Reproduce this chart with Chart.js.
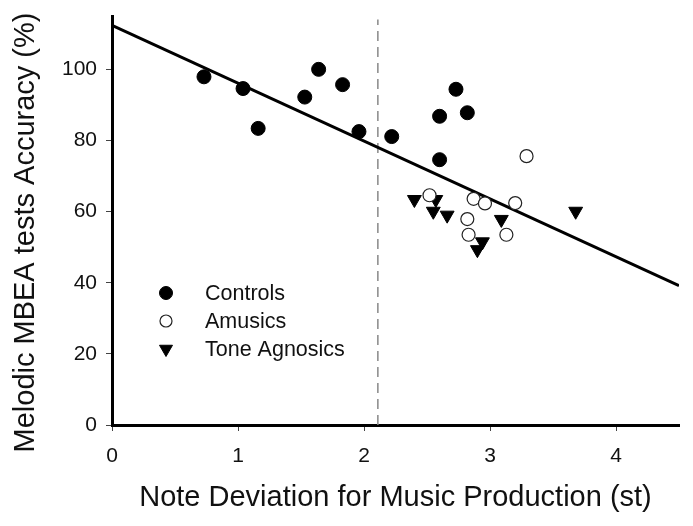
<!DOCTYPE html>
<html><head><meta charset="utf-8">
<script src="https://cdn.jsdelivr.net/npm/chart.js@4/dist/chart.umd.min.js"></script>
<style>html,body{margin:0;padding:0;background:#fff}#wrap{width:693px;height:526px}</style>
</head><body><div id="wrap"><canvas id="c" width="693" height="526"></canvas></div>
<script>
// ---- data ----
const controlsX = [0.73, 1.04, 1.16, 1.53, 1.64, 1.83, 1.96, 2.22, 2.60, 2.73, 2.82, 2.60];
const controlsY = [97.9, 94.6, 83.4, 92.2, 100.0, 95.7, 82.5, 81.1, 86.8, 94.4, 87.8, 74.6];
const amusicsX = [3.29, 2.52, 2.87, 2.96, 3.20, 2.82, 2.83, 3.13];
const amusicsY = [75.6, 64.6, 63.6, 62.3, 62.4, 57.9, 53.5, 53.5];
const toneX = [2.40, 2.57, 2.55, 2.66, 3.09, 2.94, 2.90, 3.68];
const toneY = [63.4, 63.4, 60.1, 59.0, 57.8, 51.5, 49.3, 60.1];
const fitX = [0, 4.5];
const fitY = [112.4, 39.2];
const cutoffX = [2.11, 2.11];
const cutoffY = [0, 114];
const xTicks = [0, 1, 2, 3, 4];
const yTicks = [0, 20, 40, 60, 80, 100];
const seriesNames = ['Controls', 'Amusics', 'Tone Agnosics'];
const xTitle = 'Note Deviation for Music Production (st)';
const yTitle = 'Melodic MBEA tests Accuracy (%)';

const pts = (xs, ys) => xs.map((x, i) => ({x: x, y: ys[i]}));
const FONT = '"Liberation Sans", Arial, sans-serif';

const styles = [
  {pointStyle: 'circle', radius: 7, bg: '#000', border: '#000', bw: 1, rot: 0},
  {pointStyle: 'circle', radius: 6.5, bg: '#fff', border: '#222', bw: 1.2, rot: 0},
  {pointStyle: 'triangle', radius: 8, bg: '#000', border: '#000', bw: 1, rot: 180}
];

const decorPlugin = {
  id: 'decor',
  afterDatasetsDraw(chart) {
    const ctx = chart.ctx, a = chart.chartArea;
    ctx.save();
    ctx.font = '21.5px ' + FONT;
    ctx.textBaseline = 'middle';
    ctx.textAlign = 'left';
    seriesNames.forEach((name, i) => {
      const st = styles[i];
      const mx = a.left + 54, my = a.top + 277 + i * 28;
      ctx.fillStyle = st.bg; ctx.strokeStyle = st.border; ctx.lineWidth = st.bw;
      Chart.helpers.drawPoint(ctx, {pointStyle: st.pointStyle, radius: st.radius - 0.5, rotation: st.rot, borderWidth: st.bw}, mx, my);
      ctx.fillStyle = '#111';
      ctx.fillText(name, a.left + 93, my + 1);
    });
    ctx.restore();
  },
  afterDraw(chart) {
    const ctx = chart.ctx, a = chart.chartArea;
    ctx.save();
    ctx.font = '29px ' + FONT;
    ctx.fillStyle = '#111';
    ctx.textAlign = 'center';
    ctx.textBaseline = 'middle';
    ctx.translate(26, (a.top + a.bottom) / 2 + 12);
    ctx.rotate(-Math.PI / 2);
    ctx.fillText(yTitle, 0, 0);
    ctx.restore();
  }
};

const scatterSet = (name, data, st) => ({
  label: name, data: data, type: 'scatter', order: 0,
  pointStyle: st.pointStyle, pointRadius: st.radius, pointRotation: st.rot,
  pointBackgroundColor: st.bg, pointBorderColor: st.border, pointBorderWidth: st.bw,
  showLine: false
});

new Chart(document.getElementById('c'), {
  type: 'scatter',
  data: {
    datasets: [
      scatterSet(seriesNames[0], pts(controlsX, controlsY), styles[0]),
      scatterSet(seriesNames[1], pts(amusicsX, amusicsY), styles[1]),
      scatterSet(seriesNames[2], pts(toneX, toneY), styles[2]),
      {label: 'fit', data: pts(fitX, fitY), type: 'line', order: 2, borderColor: '#000', borderWidth: 3, pointRadius: 0, fill: false},
      {label: 'cutoff', data: pts(cutoffX, cutoffY), type: 'line', order: 3, borderColor: '#888', borderWidth: 1.5, borderDash: [10, 6], pointRadius: 0, fill: false}
    ]
  },
  options: {
    responsive: false, animation: false, devicePixelRatio: 1,
    layout: {padding: {left: 0, right: 14, top: 16, bottom: 0}},
    plugins: {legend: {display: false}, tooltip: {enabled: false}},
    scales: {
      x: {
        type: 'linear', min: 0, max: 4.5,
        afterBuildTicks: s => { s.ticks = xTicks.map(v => ({value: v})); },
        afterFit: s => { s.height = 101; s.paddingLeft = 0; s.paddingRight = 0; },
        ticks: {font: {family: FONT, size: 21}, color: '#111', padding: 13, maxRotation: 0},
        grid: {drawOnChartArea: false, drawTicks: true, tickLength: 6, color: '#444', lineWidth: 1},
        border: {display: true, color: '#000', width: 3},
        title: {display: true, text: xTitle, font: {family: FONT, size: 29}, color: '#111', padding: {top: 0, bottom: 11}}
      },
      y: {
        type: 'linear', min: 0, max: 115,
        afterBuildTicks: s => { s.ticks = yTicks.map(v => ({value: v})); },
        afterFit: s => { s.width = 112; s.paddingTop = 0; s.paddingBottom = 0; },
        ticks: {font: {family: FONT, size: 21}, color: '#111', padding: 9},
        grid: {drawOnChartArea: false, drawTicks: true, tickLength: 6, color: '#444', lineWidth: 1},
        border: {display: true, color: '#000', width: 3},
        title: {display: false}
      }
    }
  },
  plugins: [decorPlugin]
});
</script>
</body></html>
